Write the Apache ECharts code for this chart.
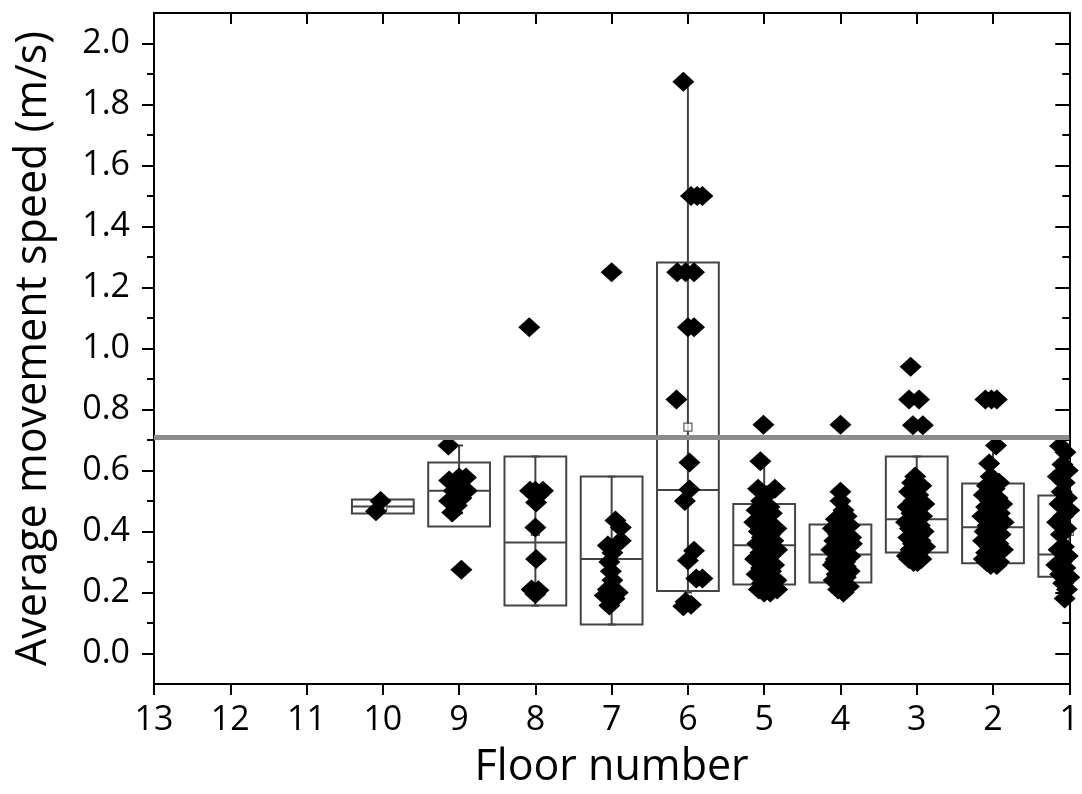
<!DOCTYPE html>
<html>
<head>
<meta charset="utf-8">
<script src="https://cdn.jsdelivr.net/npm/echarts@6/dist/echarts.min.js"></script>
<style>
html, body { margin: 0; padding: 0; background: #fff; }
#chart { width: 1082px; height: 794px; }
</style>
</head>
<body>
<div id="chart"></div>
<script>
// floors that have a box
var floors = [10, 9, 8, 7, 6, 5, 4, 3, 2, 1]
var whiskerLow  = [0.466, 0.46, 0.157, 0.095, 0.20, 0.20, 0.20, 0.30, 0.29, 0.18]
var q1          = [0.459, 0.416, 0.157, 0.095, 0.205, 0.226, 0.233, 0.331, 0.296, 0.252]
var median      = [0.482, 0.534, 0.364, 0.31, 0.536, 0.355, 0.325, 0.44, 0.414, 0.325]
var q3          = [0.505, 0.626, 0.646, 0.58, 1.282, 0.49, 0.423, 0.646, 0.557, 0.518]
var whiskerHigh = [0.50, 0.682, 0.646, 0.58, 1.875, 0.626, 0.50, 0.646, 0.68, 0.68]
var means       = [0.483, 0.52, 0.40, 0.31, 0.742, 0.37, 0.33, 0.46, 0.43, 0.40]
var refSpeed = 0.708

var xTicks = [13, 12, 11, 10, 9, 8, 7, 6, 5, 4, 3, 2, 1]
var yTicks = [0, 0.2, 0.4, 0.6, 0.8, 1.0, 1.2, 1.4, 1.6, 1.8, 2.0]
var yMinorTicks = [0.1, 0.3, 0.5, 0.7, 0.9, 1.1, 1.3, 1.5, 1.7, 1.9]

// individual speeds: [floor (with jitter), speed]
var floor10Pts = [[10.09, 0.466], [10.03, 0.50]]
var floor9Pts = [[9.14, 0.682], [9.0, 0.577], [8.91, 0.577], [9.13, 0.567], [8.9, 0.534], [9.07, 0.534],
	[9.13, 0.50], [9.03, 0.485], [9.09, 0.462], [8.97, 0.51], [9.0, 0.55], [8.97, 0.275]]
var floor8Pts = [[8.08, 1.07], [8.07, 0.534], [8.0, 0.534], [7.9, 0.534], [7.96, 0.52], [7.99, 0.495],
	[8.0, 0.413], [7.99, 0.31], [8.05, 0.21], [7.96, 0.207], [8.0, 0.195]]
var floor7Pts = [[7.0, 1.25], [6.95, 0.436], [6.88, 0.413], [6.88, 0.37], [7.05, 0.354], [6.99, 0.33],
	[7.03, 0.30], [7.01, 0.27], [6.99, 0.24], [7.09, 0.19], [6.96, 0.18], [7.03, 0.157], [7.05, 0.21], [6.92, 0.20]]
var floor6Pts = [[6.06, 1.875], [5.96, 1.5], [5.88, 1.5], [5.81, 1.5], [6.14, 1.25], [6.03, 1.25], [5.92, 1.25],
	[6.0, 1.07], [5.92, 1.07], [6.15, 0.833], [5.98, 0.626], [5.98, 0.538], [6.04, 0.50], [5.92, 0.337],
	[6.0, 0.305], [5.89, 0.246], [5.81, 0.246], [6.03, 0.17], [5.96, 0.16], [6.06, 0.155]]
var floor5Pts = [[5.01, 0.75], [5.05, 0.63], [5.08, 0.54], [4.86, 0.54], [4.97, 0.52], [5.04, 0.50], [4.93, 0.48],
	[5.10, 0.47], [4.90, 0.46], [5.00, 0.44], [5.13, 0.43], [4.95, 0.42], [4.84, 0.41], [5.07, 0.40], [4.92, 0.39],
	[5.03, 0.38], [4.88, 0.37], [5.09, 0.36], [4.96, 0.35], [4.83, 0.34], [5.05, 0.33], [4.92, 0.32], [5.12, 0.31],
	[4.99, 0.30], [4.87, 0.29], [5.04, 0.28], [4.91, 0.27], [5.10, 0.26], [4.95, 0.25], [4.84, 0.24], [5.03, 0.23],
	[4.90, 0.22], [5.07, 0.21], [4.92, 0.20], [5.00, 0.20], [4.83, 0.21], [4.97, 0.455], [5.02, 0.345], [4.95, 0.265]]
var floor4Pts = [[4.00, 0.75], [4.00, 0.53], [4.00, 0.50], [3.96, 0.47], [3.92, 0.45], [4.06, 0.44], [3.99, 0.43],
	[3.88, 0.42], [4.10, 0.41], [3.95, 0.40], [4.03, 0.39], [3.86, 0.38], [4.08, 0.37], [3.97, 0.36], [3.90, 0.35],
	[4.12, 0.34], [4.01, 0.33], [3.87, 0.32], [4.06, 0.31], [3.94, 0.30], [4.10, 0.29], [3.99, 0.28], [3.88, 0.27],
	[4.05, 0.26], [3.93, 0.25], [4.09, 0.24], [3.98, 0.23], [3.89, 0.22], [4.03, 0.21], [3.96, 0.20], [3.92, 0.22],
	[4.07, 0.30], [3.85, 0.36], [3.97, 0.415], [3.93, 0.285], [4.02, 0.245]]
var floor3Pts = [[3.08, 0.94], [3.10, 0.833], [2.97, 0.833], [3.05, 0.748], [2.92, 0.748], [3.02, 0.58], [3.06, 0.56],
	[2.94, 0.55], [3.10, 0.53], [2.98, 0.52], [3.04, 0.50], [2.90, 0.49], [3.12, 0.48], [3.00, 0.47], [3.07, 0.46],
	[2.93, 0.45], [3.03, 0.44], [3.14, 0.43], [2.96, 0.42], [3.09, 0.41], [2.91, 0.40], [3.01, 0.39], [3.11, 0.38],
	[2.95, 0.37], [3.05, 0.36], [2.89, 0.35], [3.08, 0.34], [2.98, 0.33], [3.13, 0.32], [2.94, 0.31], [3.04, 0.30],
	[2.99, 0.30], [3.10, 0.31], [3.00, 0.505], [2.97, 0.385], [3.02, 0.325]]
var floor2Pts = [[2.10, 0.833], [2.02, 0.833], [1.95, 0.833], [1.96, 0.682], [2.05, 0.623], [2.03, 0.58], [1.92, 0.56],
	[2.08, 0.55], [1.98, 0.54], [2.12, 0.52], [1.94, 0.51], [2.04, 0.50], [1.88, 0.49], [2.09, 0.48], [1.99, 0.47],
	[1.91, 0.46], [2.14, 0.45], [2.02, 0.44], [1.86, 0.43], [2.07, 0.42], [1.96, 0.41], [2.11, 0.40], [1.90, 0.39],
	[2.01, 0.38], [2.13, 0.37], [1.93, 0.36], [2.05, 0.35], [1.87, 0.34], [2.09, 0.33], [1.97, 0.32], [2.12, 0.31],
	[1.92, 0.30], [2.03, 0.29], [2.08, 0.30], [1.95, 0.29], [2.00, 0.455], [1.98, 0.355], [2.02, 0.395]]
var floor1Pts = [[1.12, 0.68], [1.05, 0.66], [1.09, 0.62], [1.02, 0.60], [1.15, 0.58], [1.06, 0.56], [0.98, 0.55],
	[1.10, 0.53], [1.03, 0.51], [1.13, 0.49], [1.00, 0.47], [1.08, 0.45], [1.16, 0.43], [1.04, 0.41], [1.11, 0.39],
	[0.99, 0.37], [1.07, 0.35], [1.14, 0.34], [1.02, 0.32], [1.10, 0.30], [1.17, 0.29], [1.05, 0.28], [1.12, 0.26],
	[1.00, 0.25], [1.08, 0.23], [1.03, 0.21], [1.06, 0.18]]

var BOX_WIDTH = 0.81
var FONT = 'Open Sans'

function renderFloorSpeedChart() {
	var myEchart = echarts.init(document.getElementById('chart'))
	var boxData = floors.map(function(f, i) {
		return [f, whiskerLow[i], q1[i], median[i], q3[i], whiskerHigh[i]]
	})
	var meanData = floors.map(function(f, i) {
		return [f, means[i]]
	})
	var allPts = [].concat(floor10Pts, floor9Pts, floor8Pts, floor7Pts, floor6Pts,
		floor5Pts, floor4Pts, floor3Pts, floor2Pts, floor1Pts)

	var axisLineStyle = { color: '#000', width: 2 }
	var yBase = {
		type: 'value',
		min: -0.1,
		max: 2.1,
		splitLine: { show: false },
		axisLine: { show: true, onZero: false, lineStyle: axisLineStyle }
	}
	var xBase = {
		type: 'value',
		min: 1,
		max: 13,
		interval: 1,
		inverse: true,
		splitLine: { show: false },
		axisLine: { show: true, onZero: false, lineStyle: axisLineStyle }
	}

	var option = {
		animation: false,
		backgroundColor: '#fff',
		grid: {
			left: 154,
			right: 9,
			top: 13,
			bottom: 109
		},
		xAxis: [
			Object.assign({}, xBase, {
				position: 'bottom',
				name: 'Floor number',
				nameLocation: 'middle',
				nameGap: 62,
				nameTextStyle: { fontFamily: FONT, fontSize: 43, color: '#000' },
				axisTick: { show: true, length: 11, lineStyle: { color: '#000', width: 2 } },
				axisLabel: {
					show: true,
					margin: 19,
					fontFamily: FONT,
					fontSize: 34,
					color: '#000',
					customValues: xTicks
				}
			}),
			Object.assign({}, xBase, {
				position: 'top',
				axisTick: { show: true, inside: true, length: 11, lineStyle: { color: '#000', width: 2 } },
				axisLabel: { show: false }
			})
		],
		yAxis: [
			Object.assign({}, yBase, {
				position: 'left',
				name: 'Average movement speed (m/s)',
				nameLocation: 'middle',
				nameGap: 99,
				nameTextStyle: { fontFamily: FONT, fontSize: 43, color: '#000' },
				axisTick: { show: true, length: 12, customValues: yTicks, lineStyle: { color: '#000', width: 2 } },
				axisLabel: {
					show: true,
					margin: 24,
					fontFamily: FONT,
					fontSize: 34,
					color: '#000',
					customValues: yTicks,
					formatter: function(v) { return v.toFixed(1) }
				}
			}),
			Object.assign({}, yBase, {
				position: 'left',
				axisTick: { show: true, length: 7, customValues: yMinorTicks, lineStyle: { color: '#000', width: 2 } },
				axisLabel: { show: false }
			}),
			Object.assign({}, yBase, {
				position: 'right',
				axisTick: { show: true, inside: true, length: 14, customValues: yTicks, lineStyle: { color: '#000', width: 2 } },
				axisLabel: { show: false }
			}),
			Object.assign({}, yBase, {
				position: 'right',
				axisTick: { show: true, inside: true, length: 7, customValues: yMinorTicks, lineStyle: { color: '#000', width: 2 } },
				axisLabel: { show: false }
			})
		],
		series: [
			{
				name: 'box',
				type: 'custom',
				clip: true,
				z: 2,
				data: boxData,
				renderItem: function(params, api) {
					var x = api.value(0)
					var lo = api.coord([x, api.value(1)])
					var bot = api.coord([x, api.value(2)])
					var med = api.coord([x, api.value(3)])
					var top = api.coord([x, api.value(4)])
					var hi = api.coord([x, api.value(5)])
					var halfW = Math.abs(api.size([BOX_WIDTH, 0])[0]) / 2
					var capW = 4
					var st = { stroke: '#444', lineWidth: 2, fill: null }
					return {
						type: 'group',
						children: [
							{ type: 'line', shape: { x1: lo[0], y1: lo[1], x2: hi[0], y2: hi[1] }, style: st },
							{ type: 'line', shape: { x1: hi[0] - capW, y1: hi[1], x2: hi[0] + capW, y2: hi[1] }, style: st },
							{ type: 'line', shape: { x1: lo[0] - capW, y1: lo[1], x2: lo[0] + capW, y2: lo[1] }, style: st },
							{ type: 'rect', shape: { x: top[0] - halfW, y: top[1], width: halfW * 2, height: bot[1] - top[1] }, style: st },
							{ type: 'line', shape: { x1: med[0] - halfW, y1: med[1], x2: med[0] + halfW, y2: med[1] }, style: st }
						]
					}
				},
				markLine: {
					silent: true,
					symbol: ['none', 'none'],
					label: { show: false },
					lineStyle: { color: '#8c8c8c', width: 5, type: 'solid', opacity: 1 },
					data: [{ yAxis: refSpeed }]
				}
			},
			{
				name: 'mean',
				type: 'scatter',
				z: 3,
				symbol: 'rect',
				symbolSize: 8,
				itemStyle: { color: '#fff', borderColor: '#333', borderWidth: 1.2 },
				data: meanData
			},
			{
				name: 'speed',
				type: 'scatter',
				z: 4,
				clip: true,
				symbol: 'diamond',
				symbolSize: [22, 20],
				itemStyle: { color: '#000', opacity: 1 },
				data: allPts
			}
		]
	}
	myEchart.setOption(option)
}

renderFloorSpeedChart()
</script>
</body>
</html>
